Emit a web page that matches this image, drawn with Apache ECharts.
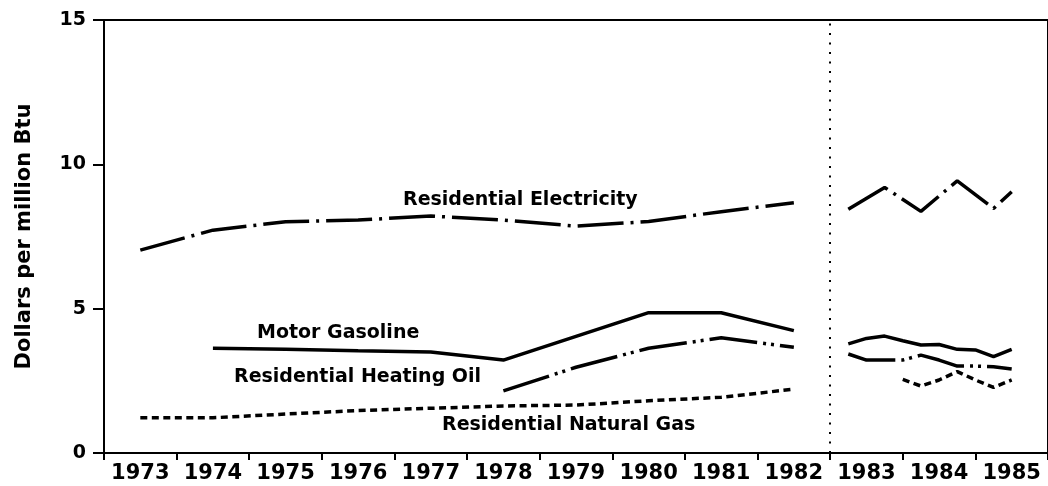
<!DOCTYPE html>
<html>
<head>
<meta charset="utf-8">
<script src="https://cdn.jsdelivr.net/npm/echarts@6/dist/echarts.min.js"></script>
<style>
html,body{margin:0;padding:0;background:#fff;}
#chart{width:1048px;height:486px;}
</style>
</head>
<body>
<div id="chart"></div>
<script>
// Tick labels (one per year interval)
const yearLabels = ['1973','1974','1975','1976','1977','1978','1979','1980','1981','1982','1983','1984','1985'];
// Annual observations 1973-1982 (plotted at mid-year)
const annualYears = [1973, 1974, 1975, 1976, 1977, 1978, 1979, 1980, 1981, 1982];
const electricityAnnual = [7.03, 7.72, 8.01, 8.07, 8.21, 8.07, 7.86, 8.02, 8.36, 8.67];
const gasolineAnnual    = [null, 3.63, 3.59, 3.54, 3.50, 3.22, 4.04, 4.86, 4.86, 4.24];
const heatingOilAnnual  = [null, null, null, null, null, 2.15, 2.97, 3.63, 3.99, 3.66];
const naturalGasAnnual  = [1.22, 1.22, 1.35, 1.47, 1.55, 1.63, 1.66, 1.81, 1.93, 2.21];
// Sub-annual observations 1983-1985
const quarterTimes   = [1983.25, 1983.5, 1983.75, 1984.0, 1984.25, 1984.5, 1984.75, 1985.0, 1985.25, 1985.5];
const gasolineQ      = [3.78, 3.97, 4.05, 3.89, 3.74, 3.76, 3.59, 3.57, 3.34, 3.59];
const heatingOilQ    = [3.43, 3.22, 3.22, 3.22, 3.39, 3.22, 3.01, 3.01, 2.99, 2.91];
const naturalGasQ    = [null, null, null, 2.55, 2.32, 2.53, 2.82, 2.53, 2.27, 2.53];
const electricityTimes = [1983.25, 1983.75, 1984.25, 1984.75, 1985.25, 1985.5];
const electricityQ     = [8.44, 9.20, 8.37, 9.43, 8.47, 9.05];
const dividerYear = 1983;

const FONT = '"DejaVu Sans", sans-serif';

function pairs(xs, ys, offset) {
  const out = [];
  for (let i = 0; i < xs.length; i++) {
    if (ys[i] !== null) out.push([xs[i] + offset, ys[i]]);
  }
  return out;
}

const styles = {
  elec: { color: '#000', width: 3.5, type: [46, 7, 3, 7], cap: 'butt' },
  gas:  { color: '#000', width: 3.5, type: 'solid', cap: 'butt' },
  oil:  { color: '#000', width: 3.5, type: [48, 6, 3, 5, 3, 6], cap: 'butt' },
  ng:   { color: '#000', width: 3.5, type: [7, 4.5], cap: 'butt' }
};

function lineSeries(name, data, style) {
  return {
    name: name, type: 'line', xAxisIndex: 1, yAxisIndex: 0,
    data: data, showSymbol: false, symbol: 'none', smooth: false,
    lineStyle: style, silent: true, animation: false
  };
}

const series = [
  lineSeries('Residential Electricity', pairs(annualYears, electricityAnnual, 0.5), styles.elec),
  lineSeries('Motor Gasoline', pairs(annualYears, gasolineAnnual, 0.5), styles.gas),
  lineSeries('Residential Heating Oil', pairs(annualYears, heatingOilAnnual, 0.5), styles.oil),
  lineSeries('Residential Natural Gas', pairs(annualYears, naturalGasAnnual, 0.5), styles.ng),
  lineSeries('Residential Electricity', pairs(electricityTimes, electricityQ, 0), styles.elec),
  lineSeries('Motor Gasoline', pairs(quarterTimes, gasolineQ, 0), styles.gas),
  lineSeries('Residential Heating Oil', pairs(quarterTimes, heatingOilQ, 0), styles.oil),
  lineSeries('Residential Natural Gas', pairs(quarterTimes, naturalGasQ, 0), styles.ng)
];
series[0].markLine = {
  silent: true, symbol: 'none', animation: false,
  label: { show: false },
  lineStyle: { color: '#000', width: 2, type: [2, 7.5] },
  data: [{ xAxis: dividerYear }]
};

const labelStyle = { font: 'bold 19px ' + FONT, fill: '#000', align: 'left', verticalAlign: 'middle' };
const annotations = [
  { text: 'Residential Electricity', x: 403, y: 200 },
  { text: 'Motor Gasoline', x: 257, y: 333 },
  { text: 'Residential Heating Oil', x: 234, y: 377 },
  { text: 'Residential Natural Gas', x: 442, y: 425 }
];

const chart = echarts.init(document.getElementById('chart'), null, { renderer: 'canvas' });
chart.setOption({
  backgroundColor: '#fff',
  animation: false,
  grid: { left: 104, top: 20, width: 953.3, height: 433, show: true, borderColor: '#000', borderWidth: 2, backgroundColor: 'transparent' },
  xAxis: [
    {
      type: 'category', data: yearLabels, boundaryGap: true, position: 'bottom',
      axisLine: { show: true, lineStyle: { color: '#000', width: 2 } },
      axisTick: { show: true, inside: false, length: 7, alignWithLabel: false, interval: 0, lineStyle: { color: '#000', width: 2 } },
      axisLabel: { show: true, interval: 0, margin: 10, color: '#000', fontFamily: FONT, fontWeight: 'bold', fontSize: 21 },
      splitLine: { show: false }
    },
    {
      type: 'value', min: 1973, max: 1986, show: false, splitLine: { show: false }
    }
  ],
  yAxis: [{
    type: 'value', min: 0, max: 15, interval: 5,
    name: 'Dollars per million Btu', nameLocation: 'middle', nameGap: 69, nameRotate: 90,
    nameTextStyle: { color: '#000', fontFamily: FONT, fontWeight: 'bold', fontSize: 21 },
    axisLine: { show: true, lineStyle: { color: '#000', width: 2 } },
    axisTick: { show: true, inside: false, length: 11, lineStyle: { color: '#000', width: 2 } },
    axisLabel: { color: '#000', fontFamily: FONT, fontWeight: 'bold', fontSize: 19, margin: 18 },
    splitLine: { show: false }
  }],
  series: series,
  graphic: annotations.map(a => ({
    type: 'text', x: a.x, y: a.y, silent: true,
    style: Object.assign({ text: a.text }, labelStyle)
  }))
});
</script>
</body>
</html>
